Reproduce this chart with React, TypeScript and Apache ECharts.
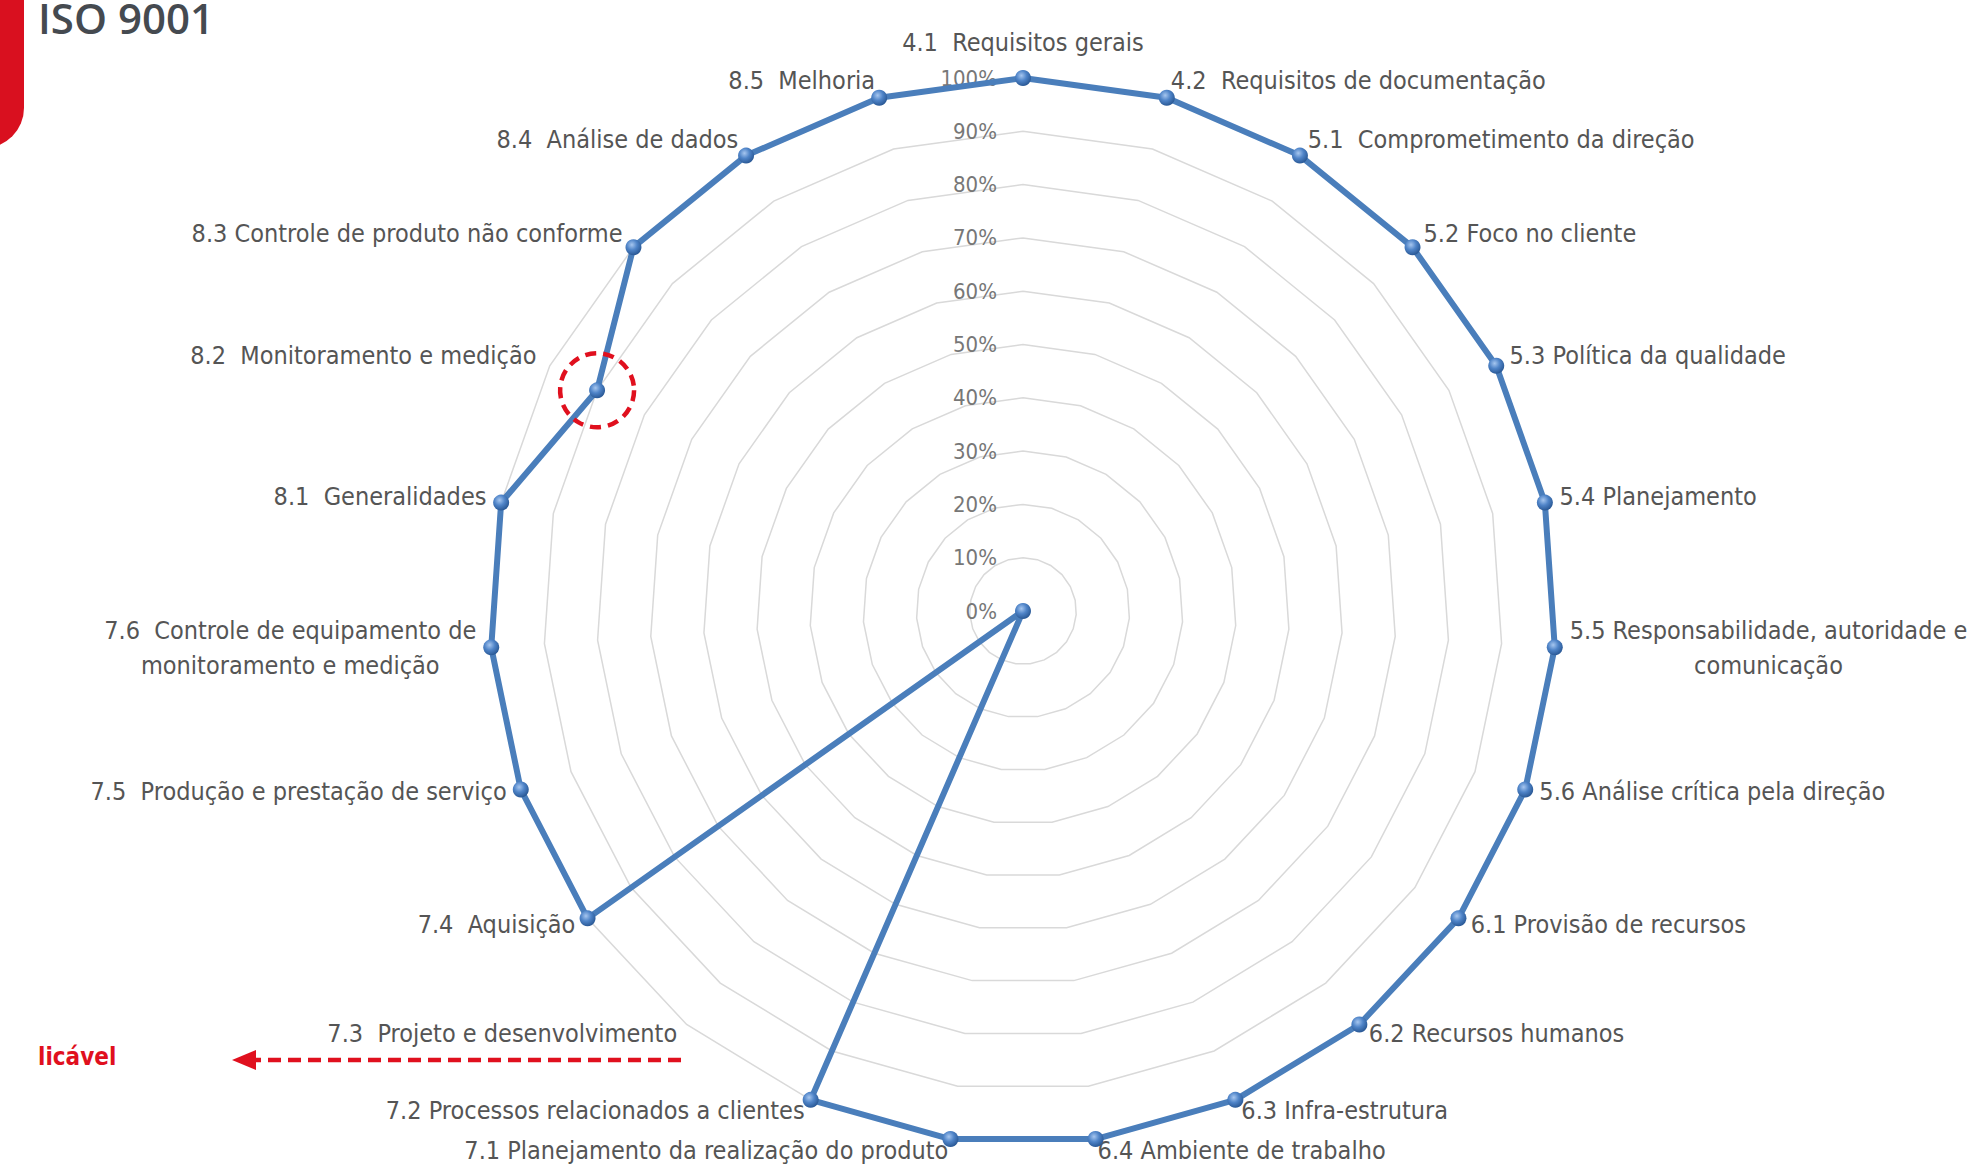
import React, { useEffect, useRef } from "react";
import * as echarts from "echarts";

// ---- data ----
const categories: string[] = [
  "4.1  Requisitos gerais",
  "4.2  Requisitos de documentação",
  "5.1  Comprometimento da direção",
  "5.2 Foco no cliente",
  "5.3 Política da qualidade",
  "5.4 Planejamento",
  "5.5 Responsabilidade, autoridade e\ncomunicação",
  "5.6 Análise crítica pela direção",
  "6.1 Provisão de recursos",
  "6.2 Recursos humanos",
  "6.3 Infra-estrutura",
  "6.4 Ambiente de trabalho",
  "7.1 Planejamento da realização do produto",
  "7.2 Processos relacionados a clientes",
  "7.3  Projeto e desenvolvimento",
  "7.4  Aquisição",
  "7.5  Produção e prestação de serviço",
  "7.6  Controle de equipamento de\nmonitoramento e medição",
  "8.1  Generalidades",
  "8.2  Monitoramento e medição",
  "8.3 Controle de produto não conforme",
  "8.4  Análise de dados",
  "8.5  Melhoria",
];

const values: number[] = [
  100, 100, 100, 100, 100, 100, 100, 100, 100, 100, 100, 100,
  100, 100, 0, 100, 100, 100, 100, 90, 100, 100, 100,
];

const axisMin = 0;
const axisMax = 100;
const highlightIndex = 19; // 8.2 Monitoramento e medição
const titleText = "ISO 9001";
const noteText = "licável";

// ---- layout ----
const W = 1975;
const H = 1165;
const CX = 1023;
const CY = 611;
const R = 533;
const FONT = "'Liberation Sans Narrow', 'DejaVu Sans Condensed', 'Noto Sans', sans-serif";
const NAME_COLOR = "#555555";

export default function App() {
  const ref = useRef<HTMLDivElement>(null);

  useEffect(() => {
    document.body.style.margin = "0";
    if (!ref.current) return;
    const chart = echarts.init(ref.current, undefined, { renderer: "svg" });

    // ECharts lays radar indicators counter-clockwise; reverse (keeping first) for clockwise order
    const order = [0, ...categories.map((_, i) => i).slice(1).reverse()];
    const indicator = order.map((i, k) => {
      const ind: any = { name: categories[i], min: axisMin, max: axisMax };
      if (k === 0) {
        ind.axisLabel = {
          show: true,
          color: "#777777",
          fontSize: 22,
          fontFamily: FONT,
          margin: 26,
          formatter: (v: number) => `${v}%`,
        };
      }
      return ind;
    });
    const seriesValues = order.map((i) => values[i]);

    const n = categories.length;
    const theta = (highlightIndex * 2 * Math.PI) / n;
    const hr = (R * (values[highlightIndex] - axisMin)) / (axisMax - axisMin);
    const hx = CX + hr * Math.sin(theta);
    const hy = CY - hr * Math.cos(theta);

    const red = "#e0101e";
    const baseText = { color: NAME_COLOR, fontSize: 25, fontFamily: FONT };

    chart.setOption({
      animation: false,
      backgroundColor: "#ffffff",
      radar: {
        center: [CX, CY],
        radius: R,
        shape: "polygon",
        splitNumber: 10,
        startAngle: 90,
        indicator,
        nameGap: 15,
        axisName: {
          ...baseText,
          lineHeight: 22,
          formatter: (name: string) => {
            if (name.includes("\n")) {
              return name
                .split("\n")
                .map((l) => `{c|${l}}`)
                .join("\n");
            }
            return name === categories[0] ? `{t|${name}}` : `{n|${name}}`;
          },
          rich: {
            c: { ...baseText, align: "center", lineHeight: 35 },
            t: { ...baseText, lineHeight: 22, padding: [0, 0, 12, 0] },
            n: { ...baseText, lineHeight: 22, padding: [0, 0, 6, 0] },
          },
        },
        axisLine: { show: false },
        axisTick: { show: false },
        axisLabel: { show: false },
        splitArea: { show: false },
        splitLine: { lineStyle: { color: "#d9d9d9", width: 1.5 } },
      },
      series: [
        {
          type: "radar",
          symbol: "circle",
          symbolSize: 16,
          lineStyle: { color: "#4a7ebb", width: 6 },
          itemStyle: {
            color: new echarts.graphic.RadialGradient(0.4, 0.35, 0.65, [
              { offset: 0, color: "#a6c6ef" },
              { offset: 0.5, color: "#4f84c8" },
              { offset: 1, color: "#2a5996" },
            ]),
            borderWidth: 0,
          },
          data: [{ value: seriesValues, name: titleText }],
        },
      ],
      graphic: [
        {
          type: "rect",
          shape: { x: -40, y: -40, width: 64, height: 188, r: [0, 0, 40, 0] },
          style: { fill: "#d9101f" },
        },
        {
          type: "text",
          x: 38,
          y: 38,
          style: {
            text: titleText,
            fill: "#454a50",
            font: "600 42px 'Open Sans', 'Noto Sans', sans-serif",
            textAlign: "left",
            textVerticalAlign: "bottom",
          },
        },
        {
          type: "text",
          x: 38,
          y: 1057,
          style: {
            text: noteText,
            fill: red,
            font: `600 24px ${FONT}`,
            textAlign: "left",
            textVerticalAlign: "middle",
          },
        },
        {
          type: "line",
          shape: { x1: 681, y1: 1060, x2: 250, y2: 1060 },
          style: { stroke: red, lineWidth: 4.5, lineDash: [13, 7] },
        },
        {
          type: "polygon",
          shape: { points: [[232, 1060], [256, 1050], [256, 1070]] },
          style: { fill: red },
        },
        {
          type: "circle",
          shape: { cx: hx, cy: hy, r: 37 },
          style: { fill: "none", stroke: red, lineWidth: 4.5, lineDash: [11, 7] },
          z: 100,
        },
      ],
    });

    return () => chart.dispose();
  }, []);

  return <div ref={ref} style={{ width: W, height: H }} />;
}
